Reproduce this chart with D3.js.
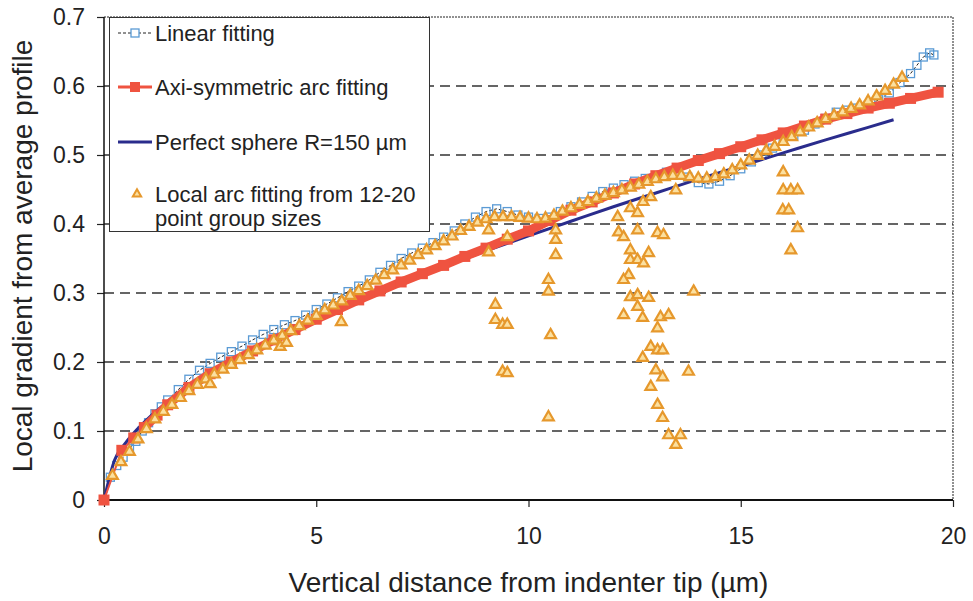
<!DOCTYPE html>
<html>
<head>
<meta charset="utf-8">
<script src="https://cdn.jsdelivr.net/npm/d3@7"></script>
<style>
    body { margin: 0; background: #fff; }
    text { font-family: "Liberation Sans", Arial, sans-serif; fill: #222; }
</style>
</head>
<body>
<svg id="chart"></svg>
<script>
// ---- data ----
const xTicks = [0, 5, 10, 15, 20];
const yTicks = [0, 0.1, 0.2, 0.3, 0.4, 0.5, 0.6, 0.7];

// Linear fitting (blue open squares, dashed black line)
const linearFit = [
    [0, 0], [0.15, 0.033], [0.3, 0.05], [0.45, 0.062], [0.6, 0.075], [0.75, 0.085], [0.9, 0.1],
    [1.05, 0.112], [1.2, 0.125], [1.35, 0.135], [1.5, 0.145], [1.75, 0.16], [2, 0.175],
    [2.25, 0.188], [2.5, 0.198], [2.75, 0.207], [3, 0.215], [3.25, 0.223], [3.5, 0.232],
    [3.75, 0.24], [4, 0.247], [4.25, 0.254], [4.5, 0.26], [4.75, 0.268], [5, 0.276],
    [5.25, 0.284], [5.5, 0.293], [5.75, 0.302], [6, 0.31], [6.25, 0.319], [6.5, 0.33],
    [6.75, 0.34], [7, 0.35], [7.25, 0.358], [7.5, 0.365], [7.75, 0.373], [8, 0.381],
    [8.25, 0.39], [8.5, 0.4], [8.75, 0.41], [9, 0.418], [9.25, 0.422], [9.5, 0.418],
    [9.75, 0.413], [10, 0.41], [10.25, 0.408], [10.5, 0.41], [10.75, 0.418], [11, 0.425],
    [11.25, 0.432], [11.5, 0.44], [11.75, 0.447], [12, 0.452], [12.25, 0.457], [12.5, 0.462],
    [12.75, 0.466], [13, 0.47], [13.25, 0.475], [13.5, 0.474], [13.75, 0.468], [14, 0.46],
    [14.25, 0.458], [14.5, 0.462], [14.75, 0.47], [15, 0.48], [15.25, 0.49], [15.5, 0.5],
    [15.75, 0.51], [16, 0.52], [16.25, 0.528], [16.5, 0.536], [16.75, 0.545], [17, 0.553],
    [17.25, 0.562], [17.5, 0.565], [17.75, 0.568], [18, 0.572], [18.25, 0.58], [18.5, 0.59],
    [18.75, 0.605], [19, 0.618], [19.15, 0.63], [19.3, 0.642], [19.45, 0.648], [19.55, 0.645]
];

// Axi-symmetric arc fitting (red)
const arcFit = [
    [0, 0], [0.42, 0.072], [0.7, 0.09], [0.95, 0.105], [1.25, 0.123], [1.5, 0.138], [2, 0.163],
    [2.5, 0.183], [3, 0.2], [3.5, 0.216], [4, 0.232], [4.5, 0.247], [5, 0.262], [5.5, 0.276],
    [6, 0.29], [6.5, 0.303], [7, 0.316], [7.5, 0.328], [8, 0.34], [8.5, 0.353], [9, 0.365],
    [9.5, 0.378], [10, 0.39], [10.5, 0.405], [11, 0.42], [11.5, 0.432], [12, 0.445],
    [12.5, 0.458], [13, 0.47], [13.5, 0.481], [14, 0.492], [14.5, 0.502], [15, 0.512],
    [15.5, 0.522], [16, 0.532], [16.5, 0.542], [17, 0.552], [17.5, 0.56], [18, 0.568],
    [18.5, 0.575], [19, 0.582], [19.65, 0.591]
];

// Perfect sphere R=150 µm (navy line)
const sphereFit = [
    [0, 0], [0.25, 0.058], [0.5, 0.082], [1, 0.116], [2, 0.164], [3, 0.202], [4, 0.234],
    [5, 0.264], [6, 0.29], [7, 0.315], [8, 0.338], [9, 0.361], [10, 0.383], [11, 0.404],
    [12, 0.425], [13, 0.445], [14, 0.465], [15, 0.484], [16, 0.503], [17, 0.522],
    [18, 0.54], [18.6, 0.551]
];

// Local arc fitting, main band
const localBand = [
    [0.2, 0.035], [0.4, 0.055], [0.6, 0.07], [0.8, 0.088], [1, 0.103], [1.2, 0.117], [1.4, 0.128],
    [1.6, 0.138], [1.8, 0.148], [2, 0.158], [2.2, 0.167], [2.4, 0.175], [2.6, 0.182], [2.8, 0.189],
    [3, 0.196], [3.2, 0.203], [3.4, 0.21], [3.6, 0.217], [3.8, 0.224], [4, 0.231], [4.2, 0.238],
    [4.4, 0.245], [4.6, 0.252], [4.8, 0.26], [5, 0.267], [5.2, 0.275], [5.4, 0.282], [5.6, 0.288],
    [5.8, 0.296], [6, 0.303], [6.2, 0.31], [6.4, 0.318], [6.6, 0.326], [6.8, 0.333], [7, 0.34],
    [7.2, 0.347], [7.4, 0.355], [7.6, 0.362], [7.8, 0.368], [8, 0.375], [8.2, 0.382], [8.4, 0.39],
    [8.6, 0.396], [8.8, 0.402], [9, 0.407], [9.2, 0.41], [9.4, 0.41], [9.6, 0.41], [9.8, 0.409],
    [10, 0.408], [10.2, 0.407], [10.4, 0.408], [10.6, 0.412], [10.8, 0.418], [11, 0.423],
    [11.2, 0.428], [11.4, 0.432], [11.6, 0.437], [11.8, 0.441], [12, 0.445], [12.2, 0.449],
    [12.4, 0.453], [12.6, 0.457], [12.8, 0.461], [13, 0.465], [13.2, 0.468], [13.4, 0.47],
    [13.6, 0.47], [13.8, 0.468], [14, 0.466], [14.2, 0.466], [14.4, 0.468], [14.6, 0.472],
    [14.8, 0.478], [15, 0.485], [15.2, 0.492], [15.4, 0.499], [15.6, 0.506], [15.8, 0.512],
    [16, 0.519], [16.2, 0.526], [16.4, 0.533], [16.6, 0.54], [16.8, 0.546], [17, 0.552],
    [17.2, 0.557], [17.4, 0.562], [17.6, 0.567], [17.8, 0.572], [18, 0.578], [18.2, 0.585],
    [18.4, 0.593], [18.6, 0.602], [18.8, 0.612]
];

// Local arc fitting, scattered points
const localScatter = [
    [2.5, 0.168], [4.15, 0.222], [4.3, 0.228], [5.59, 0.258],
    [9.06, 0.391], [9.06, 0.359], [9.5, 0.381], [9.22, 0.283], [9.22, 0.261], [9.39, 0.254],
    [9.5, 0.254], [9.39, 0.186], [9.5, 0.184],
    [10.64, 0.391], [10.64, 0.377], [10.64, 0.355], [10.47, 0.319], [10.47, 0.302],
    [10.52, 0.239], [10.47, 0.12],
    [12.1, 0.41], [12.4, 0.423], [12.57, 0.416], [12.7, 0.432], [12.88, 0.439], [13.47, 0.449],
    [12.12, 0.388], [12.24, 0.381], [12.57, 0.391], [13.04, 0.387], [13.18, 0.384],
    [12.4, 0.362], [12.83, 0.358], [12.4, 0.348], [12.57, 0.348], [12.71, 0.343],
    [12.36, 0.326], [12.24, 0.319], [12.4, 0.294], [12.57, 0.297], [12.83, 0.293],
    [12.57, 0.28], [12.24, 0.268], [12.69, 0.264], [13.11, 0.265], [13.3, 0.268],
    [13.04, 0.249], [12.88, 0.222], [13.04, 0.217], [13.16, 0.217], [12.69, 0.206],
    [13.0, 0.188], [13.16, 0.178], [12.88, 0.164], [13.04, 0.138], [13.16, 0.119],
    [13.3, 0.094], [13.47, 0.08], [13.58, 0.094], [13.89, 0.302], [13.77, 0.186],
    [16.0, 0.475], [16.0, 0.449], [16.18, 0.449], [16.34, 0.449], [15.99, 0.42],
    [16.13, 0.42], [16.34, 0.394], [16.18, 0.362]
];

const legendLabels = [
    ["Linear fitting"],
    ["Axi-symmetric arc fitting"],
    ["Perfect sphere R=150 \u00b5m"],
    ["Local arc fitting from 12-20", "point group sizes"]
];

// ---- layout ----
const width = 973, height = 601;
const margin = {top: 17, right: 20, bottom: 101, left: 104};
const blue = "#5b9bd5", red = "#ef5340", navy = "#2a2c8c", orange = "#e6982c";

const svg = d3.select("#chart").attr("width", width).attr("height", height);

const x = d3.scaleLinear().domain([0, 20]).range([margin.left, width - margin.right]);
const y = d3.scaleLinear().domain([0, 0.7]).range([height - margin.bottom, margin.top]);

// grid
svg.append("g")
    .selectAll("line")
    .data(yTicks.filter(d => d > 0 && d < 0.7))
    .join("line")
    .attr("x1", x(0)).attr("x2", x(20))
    .attr("y1", d => y(d)).attr("y2", d => y(d))
    .attr("stroke", "#333")
    .attr("stroke-width", 1.5)
    .attr("stroke-dasharray", "10,6");

// frame: top and right dotted
svg.append("path")
    .attr("d", `M${x(0)},${y(0.7)}H${x(20)}V${y(0)}`)
    .attr("fill", "none")
    .attr("stroke", "#222")
    .attr("stroke-width", 1)
    .attr("stroke-dasharray", "2,1");

// axes
const yAxis = svg.append("g")
    .attr("transform", `translate(${x(0)},0)`)
    .call(d3.axisLeft(y).tickValues(yTicks).tickSize(7).tickPadding(12)
        .tickFormat(d => d === 0 ? "0" : d.toFixed(1)));
yAxis.select(".domain").remove();
yAxis.selectAll("line").attr("stroke", "#222").attr("stroke-width", 1.2);
yAxis.selectAll("text").style("font-size", "23px").attr("fill", "#2a2a2a");

const xAxis = svg.append("g")
    .attr("transform", `translate(0,${y(0)})`)
    .call(d3.axisBottom(x).tickValues(xTicks).tickSize(7).tickPadding(21));
xAxis.select(".domain").remove();
xAxis.selectAll("line").attr("stroke", "#222").attr("stroke-width", 1.2);
xAxis.selectAll("text").style("font-size", "23px").attr("fill", "#2a2a2a");

svg.append("line")
    .attr("x1", x(0)).attr("x2", x(0)).attr("y1", y(0.7)).attr("y2", y(0))
    .attr("stroke", "#111").attr("stroke-width", 1.5);
svg.append("line")
    .attr("x1", x(0)).attr("x2", x(20)).attr("y1", y(0)).attr("y2", y(0))
    .attr("stroke", "#111").attr("stroke-width", 2);

// axis titles
svg.append("text")
    .attr("x", (x(0) + x(20)) / 2)
    .attr("y", 592)
    .attr("text-anchor", "middle")
    .style("font-size", "28px")
    .text("Vertical distance from indenter tip (\u00b5m)");

svg.append("text")
    .attr("transform", "translate(32,256) rotate(-90)")
    .attr("text-anchor", "middle")
    .style("font-size", "28px")
    .text("Local gradient from average profile");

// series
const line = d3.line().x(d => x(d[0])).y(d => y(d[1]));
const tri = d3.symbol().type(d3.symbolTriangle).size(50);

const plot = svg.append("g");

// linear fitting
plot.append("path")
    .attr("d", line(linearFit))
    .attr("fill", "none")
    .attr("stroke", "#222")
    .attr("stroke-width", 1)
    .attr("stroke-dasharray", "3,2");
plot.append("g")
    .selectAll("rect")
    .data(linearFit)
    .join("rect")
    .attr("x", d => x(d[0]) - 4)
    .attr("y", d => y(d[1]) - 4)
    .attr("width", 8).attr("height", 8)
    .attr("fill", "none")
    .attr("stroke", blue)
    .attr("stroke-width", 1.3);

// perfect sphere
plot.append("path")
    .attr("d", line.curve(d3.curveMonotoneX)(sphereFit))
    .attr("fill", "none")
    .attr("stroke", navy)
    .attr("stroke-width", 3);

// arc fitting
line.curve(d3.curveLinear);
plot.append("path")
    .attr("d", line(arcFit.slice(3)))
    .attr("fill", "none")
    .attr("stroke", red)
    .attr("stroke-width", 9);
plot.append("path")
    .attr("d", line(arcFit.slice(0, 4)))
    .attr("fill", "none")
    .attr("stroke", red)
    .attr("stroke-width", 2);
plot.append("g")
    .selectAll("rect")
    .data(arcFit)
    .join("rect")
    .attr("x", d => x(d[0]) - 5.5)
    .attr("y", d => y(d[1]) - 5.5)
    .attr("width", 11).attr("height", 11)
    .attr("fill", red);

// local arc fitting
plot.append("g")
    .selectAll("path")
    .data(localBand.concat(localScatter))
    .join("path")
    .attr("transform", d => `translate(${x(d[0])},${y(d[1])})`)
    .attr("d", tri)
    .attr("fill", "#fbe0a0")
    .attr("stroke", orange)
    .attr("stroke-width", 2.2);

// legend
const legend = svg.append("g");
legend.append("rect")
    .attr("x", 109.5).attr("y", 17.5)
    .attr("width", 320).attr("height", 214)
    .attr("fill", "#fff")
    .attr("stroke", "#333")
    .attr("stroke-width", 1);

const rowY = [33, 87, 142, 194];
// linear fitting key
legend.append("line").attr("x1", 118).attr("x2", 152).attr("y1", rowY[0]).attr("y2", rowY[0])
    .attr("stroke", "#222").attr("stroke-dasharray", "3,2");
legend.append("rect").attr("x", 131).attr("y", rowY[0] - 4).attr("width", 8).attr("height", 8)
    .attr("fill", "#fff").attr("stroke", blue).attr("stroke-width", 1.3);
// arc key
legend.append("line").attr("x1", 118).attr("x2", 152).attr("y1", rowY[1]).attr("y2", rowY[1])
    .attr("stroke", red).attr("stroke-width", 3);
legend.append("rect").attr("x", 130).attr("y", rowY[1] - 5).attr("width", 10).attr("height", 10)
    .attr("fill", red);
// sphere key
legend.append("line").attr("x1", 118).attr("x2", 152).attr("y1", rowY[2]).attr("y2", rowY[2])
    .attr("stroke", navy).attr("stroke-width", 3);
// local key
legend.append("path").attr("transform", `translate(137,${rowY[3]})`)
    .attr("d", d3.symbol().type(d3.symbolTriangle).size(30))
    .attr("fill", "#fbe0a0").attr("stroke", orange).attr("stroke-width", 2);

legendLabels.forEach((lines, i) => {
    lines.forEach((t, j) => {
        legend.append("text")
            .attr("x", 155)
            .attr("y", rowY[i] + 8 + j * 24)
            .style("font-size", "22px")
            .text(t);
    });
});
</script>
</body>
</html>
